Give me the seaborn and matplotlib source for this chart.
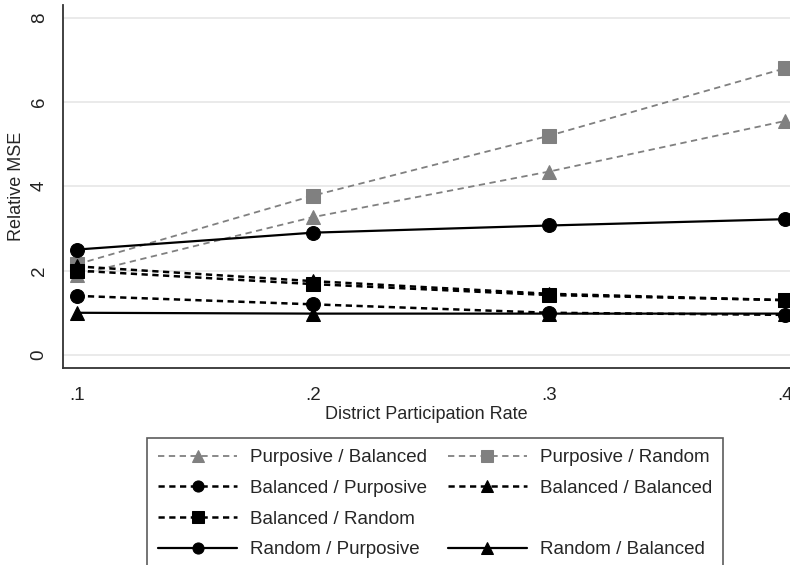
import pandas as pd
import matplotlib
matplotlib.use("Agg")
import matplotlib.pyplot as plt
from matplotlib.lines import Line2D
import seaborn as sns

# Data
rates = [0.1, 0.2, 0.3, 0.4]
rate_labels = [".1", ".2", ".3", ".4"]
purposive_balanced = [1.90, 3.27, 4.35, 5.55]
purposive_random = [2.15, 3.78, 5.20, 6.80]
balanced_purposive = [1.40, 1.20, 1.00, 0.95]
balanced_balanced = [2.10, 1.75, 1.45, 1.30]
balanced_random = [2.00, 1.68, 1.42, 1.30]
random_purposive = [2.50, 2.90, 3.07, 3.22]
random_balanced = [1.00, 0.98, 0.98, 0.98]

sns.set_style("white")
plt.rcParams["font.family"] = ["Liberation Sans", "DejaVu Sans"]

series = [
    ("Purposive / Balanced", purposive_balanced, "#808080", "^", (0, (3.5, 2.5)), 1.3),
    ("Purposive / Random", purposive_random, "#808080", "s", (0, (3.5, 2.5)), 1.3),
    ("Balanced / Purposive", balanced_purposive, "black", "o", (0, (2.5, 1.8)), 1.8),
    ("Balanced / Balanced", balanced_balanced, "black", "^", (0, (2.5, 1.8)), 1.8),
    ("Balanced / Random", balanced_random, "black", "s", (0, (2.5, 1.8)), 1.8),
    ("Random / Purposive", random_purposive, "black", "o", "-", 1.6),
    ("Random / Balanced", random_balanced, "black", "^", "-", 1.6),
]

fig = plt.figure(figsize=(7.9, 5.65), dpi=100)
ax = fig.add_axes([63 / 790, 197 / 565, 1 - 63 / 790, 363 / 565])

for name, vals, color, marker, ls, lw in series:
    df = pd.DataFrame({"rate": rates, "mse": vals})
    sns.lineplot(data=df, x="rate", y="mse", ax=ax, color=color, marker=marker,
                 markersize=10, markeredgecolor=color, linestyle=ls, linewidth=lw,
                 label=name, clip_on=False)

ax.set_xlim(0.094, 0.402)
ax.set_ylim(-0.31, 8.3)
ax.set_xticks(rates)
ax.set_xticklabels(rate_labels)
ax.set_yticks([0, 2, 4, 6, 8])
ax.yaxis.grid(True, color="#e6e6e6", linewidth=1.2)
ax.xaxis.grid(False)
for side in ["top", "right"]:
    ax.spines[side].set_visible(False)
for side in ["left", "bottom"]:
    ax.spines[side].set_color("#333333")
    ax.spines[side].set_linewidth(1.3)
ax.tick_params(axis="both", direction="out", length=6, width=1.2, color="#333333",
               labelsize=13.5, colors="#222222")
ax.tick_params(axis="x", pad=8)
ax.tick_params(axis="y", labelrotation=90, pad=5)
for lab in ax.get_yticklabels():
    lab.set_va("center")
ax.set_xlabel("District Participation Rate", fontsize=13, labelpad=1)
ax.set_ylabel("Relative MSE", fontsize=13, labelpad=4)

h, l = ax.get_legend_handles_labels()
ax.get_legend().remove()
blank = Line2D([], [], color="none")
order_h = [h[0], h[2], h[4], h[5], h[1], h[3], blank, h[6]]
order_l = [l[0], l[2], l[4], l[5], l[1], l[3], "", l[6]]
leg = fig.legend(order_h, order_l, ncol=2, loc="upper left",
                 bbox_to_anchor=(147 / 790, 1 - 438 / 565),
                 frameon=True, fancybox=False, fontsize=13.5,
                 handlelength=4.2, handletextpad=0.7, labelspacing=0.72,
                 columnspacing=1.1, borderpad=0.6, borderaxespad=0,
                 markerscale=0.8)
leg.get_frame().set_edgecolor("#333333")
leg.get_frame().set_linewidth(1.2)

fig.savefig("out.png", dpi=100)
